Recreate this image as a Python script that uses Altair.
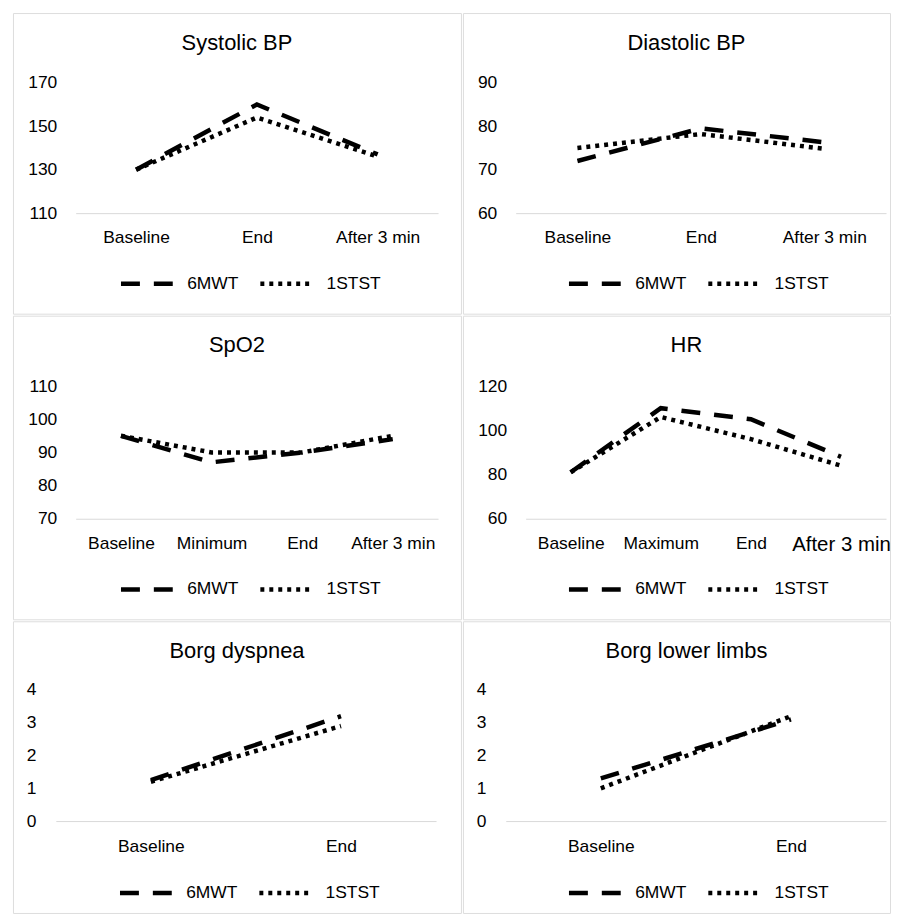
import altair as alt
import pandas as pd

SERIES = ["6MWT", "1STST"]
DASHES = [[19, 14], [4, 5]]

# ---- data ----
sys_cats = ["Baseline", "End", "After 3 min"]
sys_6mwt = [130, 160, 137]
sys_1stst = [130, 154, 136]
sys_ticks = [110, 130, 150, 170]

dia_cats = ["Baseline", "End", "After 3 min"]
dia_6mwt = [72, 79.5, 76.3]
dia_1stst = [75, 78.2, 74.8]
dia_ticks = [60, 70, 80, 90]

spo2_cats = ["Baseline", "Minimum", "End", "After 3 min"]
spo2_6mwt = [95, 87, 90, 94]
spo2_1stst = [95, 90, 90, 95]
spo2_ticks = [70, 80, 90, 100, 110]

hr_cats = ["Baseline", "Maximum", "End", "After 3 min"]
hr_6mwt = [81, 110, 105, 88]
hr_1stst = [81, 106, 96, 84]
hr_ticks = [60, 80, 100, 120]

bd_cats = ["Baseline", "End"]
bd_6mwt = [1.25, 3.2]
bd_1stst = [1.2, 2.9]
bd_ticks = [0, 1, 2, 3, 4]

bl_cats = ["Baseline", "End"]
bl_6mwt = [1.3, 3.1]
bl_1stst = [1.0, 3.2]
bl_ticks = [0, 1, 2, 3, 4]

FONT = "Liberation Sans"
FS = 17.5

panels = [
    dict(title="Systolic BP", cats=sys_cats, a=sys_6mwt, b=sys_1stst, ticks=sys_ticks,
         w=450, h=302, xr=[63, 427], yr=[201, 70], ylab=44, tdx=0, lx=106, ly=243, lp=16, big=False),
    dict(title="Diastolic BP", cats=dia_cats, a=dia_6mwt, b=dia_1stst, ticks=dia_ticks,
         w=429, h=302, xr=[53, 425], yr=[201, 70], ylab=34, tdx=10, lx=104, ly=243, lp=16, big=False),
    dict(title="SpO2", cats=spo2_cats, a=spo2_6mwt, b=spo2_1stst, ticks=spo2_ticks,
         w=450, h=305, xr=[63, 427], yr=[204, 70.7], ylab=44, tdx=0, lx=106, ly=246, lp=16, big=False),
    dict(title="HR", cats=hr_cats, a=hr_6mwt, b=hr_1stst, ticks=hr_ticks,
         w=429, h=305, xr=[63, 425], yr=[204, 70.7], ylab=44, tdx=10, lx=104, ly=246, lp=16, big=True),
    dict(title="Borg dyspnea", cats=bd_cats, a=bd_6mwt, b=bd_1stst, ticks=bd_ticks,
         w=450, h=293, xr=[43, 425], yr=[200.7, 69], ylab=23, tdx=0, lx=105, ly=244, lp=17, big=False),
    dict(title="Borg lower limbs", cats=bl_cats, a=bl_6mwt, b=bl_1stst, ticks=bl_ticks,
         w=429, h=293, xr=[43, 425], yr=[200.7, 69], ylab=23, tdx=10, lx=104, ly=244, lp=17, big=False),
]


def make_panel(p):
    n = len(p["cats"])
    df = pd.DataFrame({
        "cat": p["cats"] * 2,
        "series": [SERIES[0]] * n + [SERIES[1]] * n,
        "value": p["a"] + p["b"],
    })
    if p["big"]:
        xlab_size = {"condition": {"test": "datum.value === 'After 3 min'", "value": 20.5}, "value": FS}
    else:
        xlab_size = FS
    y0 = p["yr"][0]
    return alt.Chart(
        df,
        title=alt.TitleParams(p["title"], fontSize=22, fontWeight="normal", font=FONT,
                              color="black", anchor="middle", frame="group",
                              baseline="middle", offset=-52, dx=p["tdx"]),
    ).mark_line(color="black", strokeWidth=4.5).encode(
        x=alt.X("cat:N", sort=p["cats"], title=None,
                scale=alt.Scale(range=p["xr"], padding=0.5),
                axis=alt.Axis(orient="bottom", offset=-(p["h"] - y0), ticks=False, tickSize=0,
                              labelPadding=p["lp"], labelAngle=0, labelFontSize=xlab_size,
                              labelColor="black", labelFont=FONT, domainColor="#d9d9d9",
                              domainWidth=1, grid=False)),
        y=alt.Y("value:Q", title=None,
                scale=alt.Scale(domain=[p["ticks"][0], p["ticks"][-1]], range=p["yr"],
                                nice=False, zero=False),
                axis=alt.Axis(values=p["ticks"], offset=-p["ylab"], ticks=False, tickSize=0,
                              labelPadding=0, domain=False, grid=False, labelFontSize=FS,
                              labelColor="black", labelFont=FONT)),
        strokeDash=alt.StrokeDash(
            "series:N", sort=SERIES,
            scale=alt.Scale(domain=SERIES, range=DASHES),
            legend=alt.Legend(title=None, orient="none", legendX=p["lx"], legendY=p["ly"],
                              direction="horizontal", symbolType="stroke", symbolSize=2809,
                              symbolStrokeWidth=4.5, symbolStrokeColor="black",
                              labelFontSize=FS, labelColor="black", labelFont=FONT,
                              labelOffset=11, columnPadding=12, padding=0)),
    ).properties(width=p["w"], height=p["h"])


charts = [make_panel(p) for p in panels]

chart = alt.concat(*charts, columns=2, spacing=0, align="each").resolve_scale(
    x="independent", y="independent", strokeDash="independent"
).resolve_legend(strokeDash="independent").configure_view(
    stroke="#d9d9d9", strokeWidth=1
).properties(
    padding={"left": 4, "top": 2, "right": 0, "bottom": 0}
).configure(font=FONT)

chart.save("out.html", embed_options={"renderer": "svg", "actions": False})
